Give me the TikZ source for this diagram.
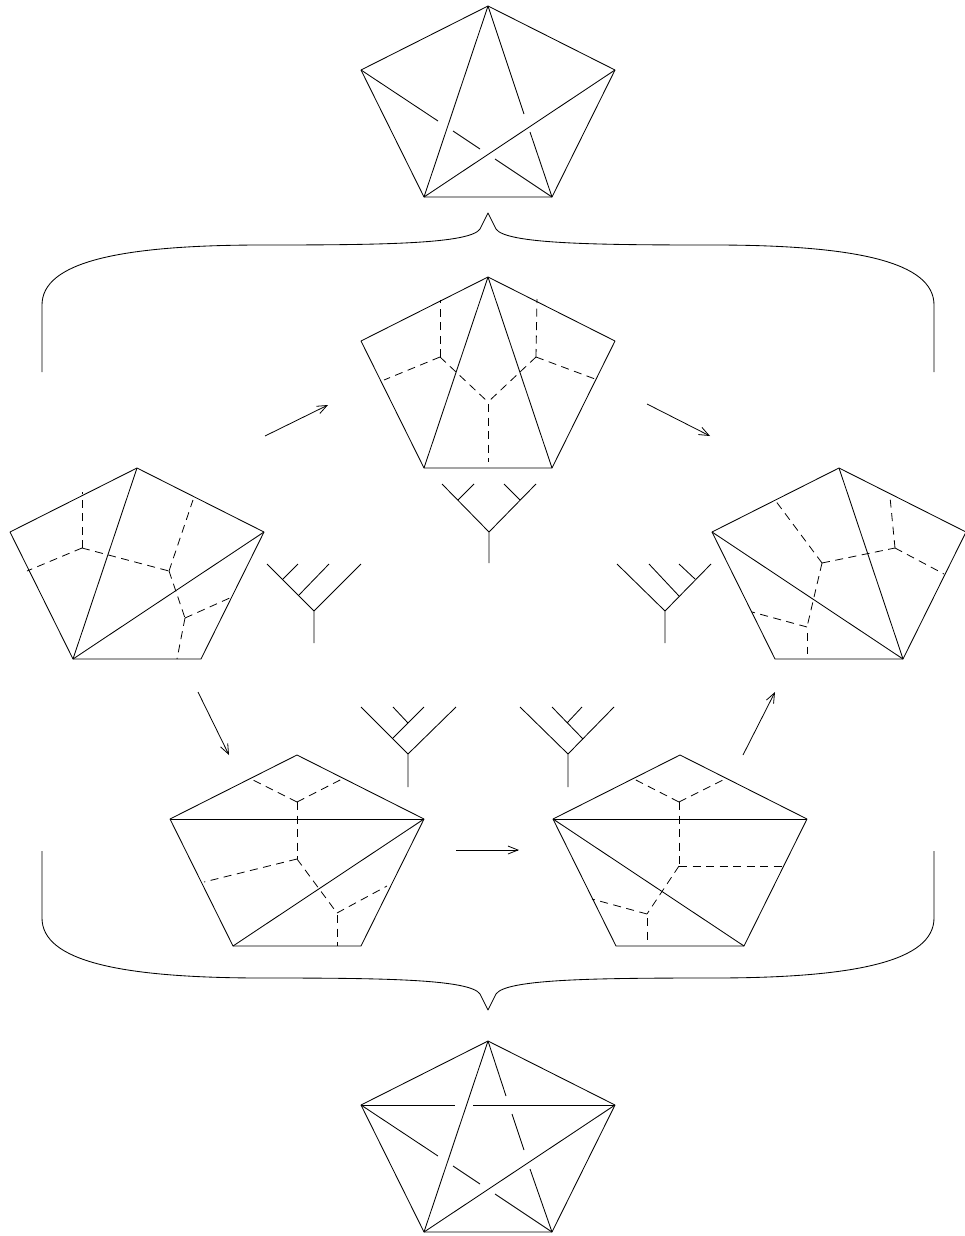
\documentclass[tikz,border=0pt]{standalone}
\usepackage{tikz}
\usetikzlibrary{arrows.meta}
\tikzset{
  edgeline/.style={black,line width=0.85pt,line join=round},
  dualline/.style={black,line width=0.8pt,dash pattern=on 8pt off 5.5pt},
  treeline/.style={black,line width=0.85pt},
  flipline/.style={black,line width=0.8pt,-{Straight Barb[length=10pt,width=8pt]}},
}
% outline of one pentagon, corners named #1t,#1l,#1r,#1a,#1b
\newcommand{\pentagon}[3]{
  \begin{scope}[shift={(#2,#3)}]
    \coordinate (#1t) at (0,0);
    \coordinate (#1l) at (-127,64);
    \coordinate (#1r) at (127,64);
    \coordinate (#1a) at (-64,191);
    \coordinate (#1b) at (64,191);
    \draw[edgeline] (#1t) -- (#1l) -- (#1a) -- (#1b) -- (#1r) -- cycle;
  \end{scope}}
\begin{document}
\begin{tikzpicture}[x=1pt,y=-1pt]
  \useasboundingbox (0,0) rectangle (965,1236);
  \pentagon{top}{488}{6}
  \pentagon{mid}{488}{277}
  \pentagon{west}{137}{468}
  \pentagon{east}{839}{468}
  \pentagon{sw}{297}{755}
  \pentagon{se}{680}{755}
  \pentagon{bot}{488}{1041}
  % top knot
  \draw[edgeline] (topt) -- (topa);
  \draw[edgeline] (topa) -- (topr);
  \draw[edgeline] (topl) -- (438,121);
  \draw[edgeline] (453,131) -- (480,149);
  \draw[edgeline] (495,159) -- (topb);
  \draw[edgeline] (topt) -- (524,114);
  \draw[edgeline] (530,132) -- (topb);
  % bottom knot
  \draw[edgeline] (bott) -- (bota);
  \draw[edgeline] (bota) -- (botr);
  \draw[edgeline] (botl) -- (438,1156);
  \draw[edgeline] (453,1166) -- (480,1184);
  \draw[edgeline] (495,1194) -- (botb);
  \draw[edgeline] (bott) -- (506,1096);
  \draw[edgeline] (512,1114) -- (524,1150);
  \draw[edgeline] (530,1169) -- (botb);
  \draw[edgeline] (botl) -- (455,1105);
  \draw[edgeline] (473,1105) -- (botr);
  % triangulations
  \draw[edgeline] (midt) -- (mida);
  \draw[edgeline] (midt) -- (midb);
  \draw[edgeline] (westt) -- (westa);
  \draw[edgeline] (westa) -- (westr);
  \draw[edgeline] (eastt) -- (eastb);
  \draw[edgeline] (eastl) -- (eastb);
  \draw[edgeline] (swl) -- (swr);
  \draw[edgeline] (swa) -- (swr);
  \draw[edgeline] (sel) -- (ser);
  \draw[edgeline] (sel) -- (seb);
  % dual graphs
  \draw[dualline] (440,357) -- (440,300);
  \draw[dualline] (440,357) -- (384,380);
  \draw[dualline] (440,357) -- (488,402);
  \draw[dualline] (536,357) -- (537,299);
  \draw[dualline] (536,357) -- (595,379);
  \draw[dualline] (536,357) -- (488,402);
  \draw[dualline] (488,404) -- (488,462);
  %
  \draw[dualline] (82,548) -- (82,492);
  \draw[dualline] (82,548) -- (27,571);
  \draw[dualline] (82,548) -- (169,571);
  \draw[dualline] (169,571) -- (193,500);
  \draw[dualline] (169,571) -- (185,618);
  \draw[dualline] (185,618) -- (232,597);
  \draw[dualline] (185,618) -- (177,659);
  %
  \draw[dualline] (822,563) -- (775,500);
  \draw[dualline] (822,563) -- (895,548);
  \draw[dualline] (895,548) -- (890,497);
  \draw[dualline] (895,548) -- (944,574);
  \draw[dualline] (822,563) -- (807,627);
  \draw[dualline] (807,627) -- (752,612);
  \draw[dualline] (807,633) -- (807,654);
  %
  \draw[dualline] (297,802) -- (249,778);
  \draw[dualline] (297,802) -- (344,778);
  \draw[dualline] (297,802) -- (297,859);
  \draw[dualline] (297,859) -- (204,882);
  \draw[dualline] (297,859) -- (337,913);
  \draw[dualline] (337,913) -- (387,886);
  \draw[dualline] (337,915) -- (337,946);
  %
  \draw[dualline] (679,802) -- (632,778);
  \draw[dualline] (679,802) -- (727,778);
  \draw[dualline] (679,802) -- (679,866);
  \draw[dualline] (679,866) -- (783,866);
  \draw[dualline] (679,866) -- (647,914);
  \draw[dualline] (647,914) -- (592,899);
  \draw[dualline] (647,918) -- (647,940);
  % trees
  \draw[treeline] (314,643) -- (314,611) -- (267,564) (314,611) -- (361,564);
  \draw[treeline] (299,595) -- (329,564) (283,579) -- (298,564);
  \draw[treeline] (489,563) -- (489,532) -- (442,484) (489,532) -- (536,484);
  \draw[treeline] (458,500) -- (474,484) (520,500) -- (504,484);
  \draw[treeline] (665,643) -- (665,611) -- (617,564) (665,611) -- (711,564);
  \draw[treeline] (679,596) -- (649,564) (695,579) -- (679,564);
  \draw[treeline] (408,787) -- (408,754) -- (361,707) (408,754) -- (456,707);
  \draw[treeline] (393,738) -- (424,707) (408,723) -- (393,707);
  \draw[treeline] (568,787) -- (568,754) -- (520,707) (568,754) -- (614,707);
  \draw[treeline] (583,739) -- (552,707) (567,723) -- (582,707);
  % flips
  \coordinate (flipa) at (265,436);
  \coordinate (flipb) at (328,405);
  \coordinate (flipc) at (647,404);
  \coordinate (flipd) at (710,436);
  \coordinate (flipe) at (198,692);
  \coordinate (flipf) at (229,755);
  \coordinate (flipg) at (456,850);
  \coordinate (fliph) at (519,850);
  \coordinate (flipi) at (743,755);
  \coordinate (flipj) at (775,692);
  \draw[flipline] (flipa) -- (flipb);
  \draw[flipline] (flipc) -- (flipd);
  \draw[flipline] (flipe) -- (flipf);
  \draw[flipline] (flipg) -- (fliph);
  \draw[flipline] (flipi) -- (flipj);
  % braces
  \foreach \yo/\ys in {245/1,978/-1}{
    \begin{scope}[shift={(488,\yo)},yscale=\ys]
      \draw[edgeline] (-446,127) -- (-446,60) .. controls (-446,17) and (-368,0) .. (-225,0)
        .. controls (-108,0) and (-18,-1) .. (-8,-16) -- (0,-32) -- (8,-16)
        .. controls (18,-1) and (108,0) .. (225,0)
        .. controls (368,0) and (446,17) .. (446,60) -- (446,127);
    \end{scope}}
\end{tikzpicture}
\end{document}
